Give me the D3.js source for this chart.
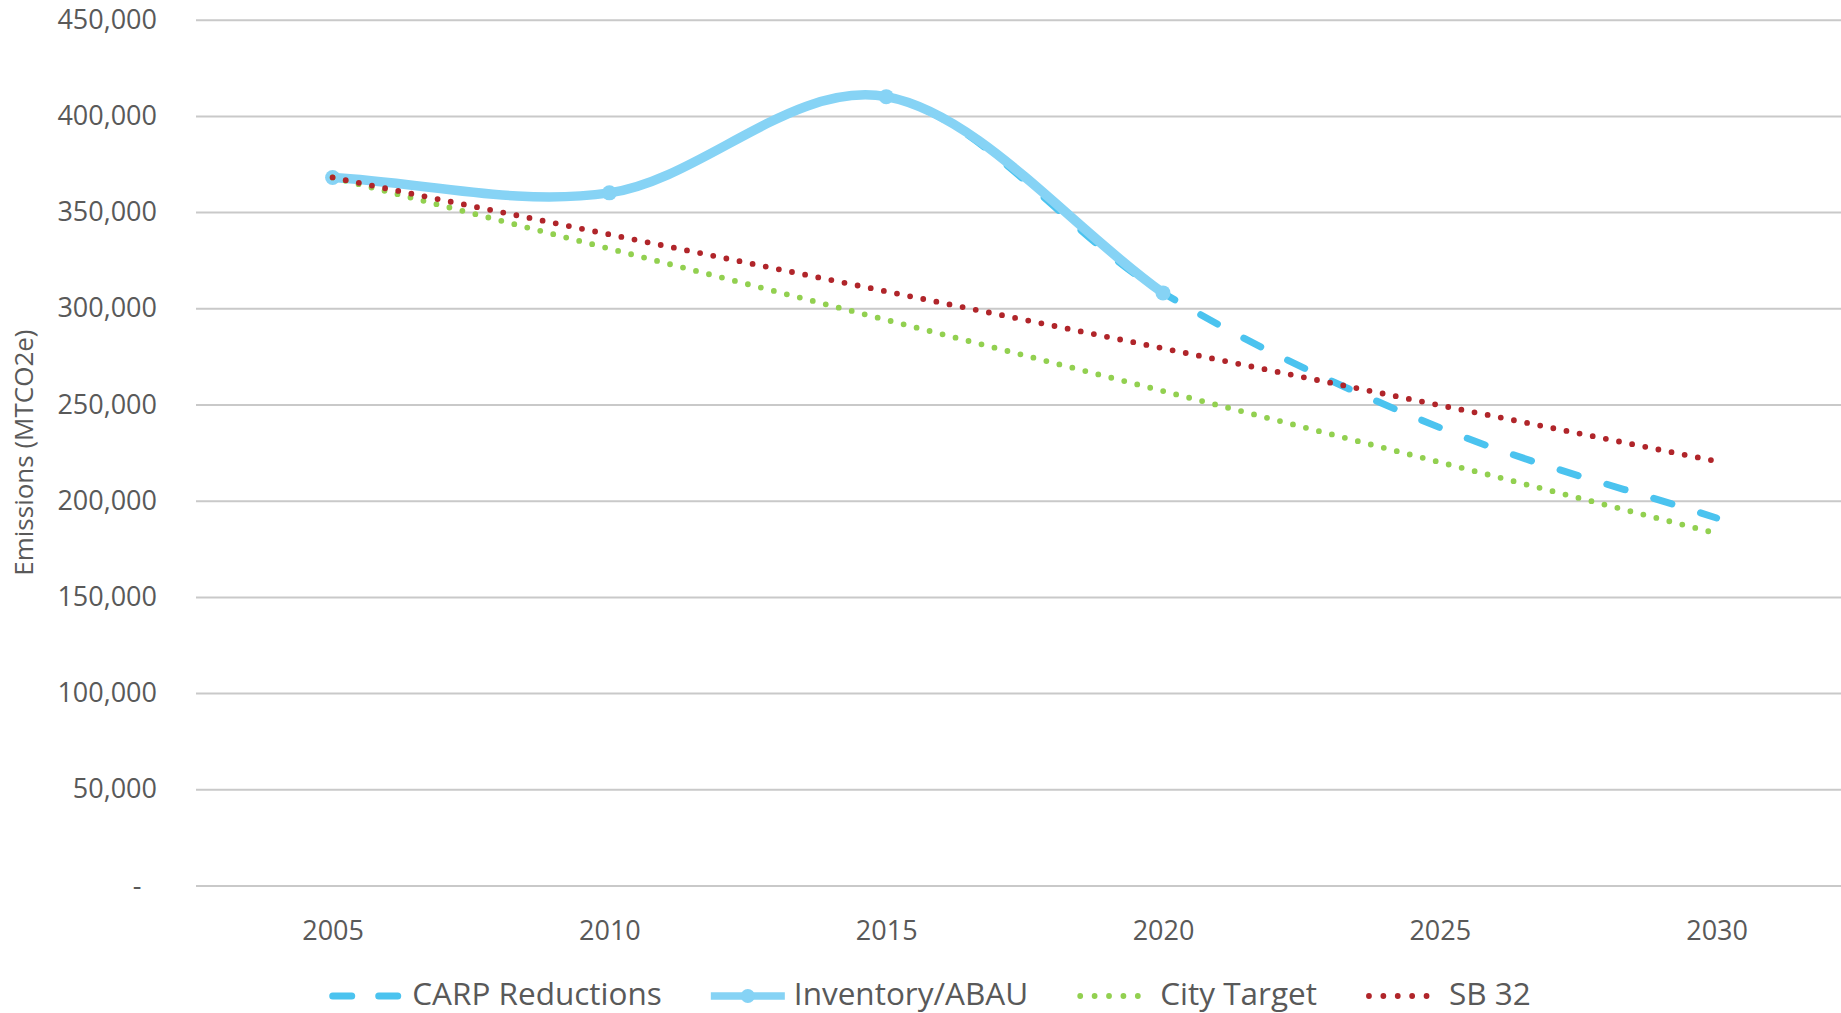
<!DOCTYPE html>
<html>
<head>
<meta charset="utf-8">
<script src="https://cdn.jsdelivr.net/npm/d3@7"></script>
<style>
  html, body { margin: 0; padding: 0; background: #fff; overflow: hidden; }
  svg { display: block; font-family: "Open Sans", "Noto Sans", sans-serif; }
</style>
</head>
<body>
<svg id="chart" width="1841" height="1013"></svg>
<script>
// ---- data ----
const years = [2005, 2010, 2015, 2020, 2025, 2030];
const carpReductions = [368000, 360000, 410000, 308000, 238000, 191000];
const inventoryABAU = [368000, 360000, 410000, 308000, null, null];
const cityTarget = [368000, 331000, 294000, 257000, 220000, 183000];
const sb32 = [368000, 338400, 308800, 279200, 249600, 220500];
const yTickValues = [0, 50000, 100000, 150000, 200000, 250000, 300000, 350000, 400000, 450000];
const seriesNames = ["CARP Reductions", "Inventory/ABAU", "City Target", "SB 32"];
const yTitle = "Emissions (MTCO2e)";

// ---- spreadsheet-style smoothed curve (Bezier through points) ----
function SmoothCurve(context) { this._context = context; }
SmoothCurve.prototype = {
  areaStart() { this._line = 0; },
  areaEnd() { this._line = NaN; },
  lineStart() { this._pts = []; },
  point(px, py) { this._pts.push([+px, +py]); },
  lineEnd() {
    const p = this._pts, n = p.length, c = this._context;
    if (!n) return;
    c.moveTo(p[0][0], p[0][1]);
    if (n === 2) { c.lineTo(p[1][0], p[1][1]); return; }
    for (let i = 0; i < n - 1; i++) {
      const a = p[i], b = p[i + 1];
      let c1, c2;
      if (i === 0) c1 = [a[0] + (b[0] - a[0]) / 3, a[1] + (b[1] - a[1]) / 3];
      else c1 = [a[0] + (b[0] - p[i - 1][0]) / 6, a[1] + (b[1] - p[i - 1][1]) / 6];
      if (i + 1 === n - 1) c2 = [b[0] - (b[0] - a[0]) / 3, b[1] - (b[1] - a[1]) / 3];
      else c2 = [b[0] - (p[i + 2][0] - a[0]) / 6, b[1] - (p[i + 2][1] - a[1]) / 6];
      c.bezierCurveTo(c1[0], c1[1], c2[0], c2[1], b[0], b[1]);
    }
  }
};
const curveSmooth = ctx => new SmoothCurve(ctx);

// ---- layout ----
const svg = d3.select("#chart");
const plotLeft = 196, plotRight = 1857, plotTop = 19.7, plotBottom = 885.5;
const x = d3.scalePoint().domain(years).range([332.6, 1716.6]);
const y = d3.scaleLinear().domain([0, 450000]).range([plotBottom, plotTop]);
const textColor = "#595959";

// gridlines
const grid = svg.append("g")
  .attr("transform", `translate(${plotLeft},0)`)
  .call(d3.axisLeft(y).tickValues(yTickValues).tickSize(-(plotRight - plotLeft)).tickFormat(""));
grid.select(".domain").remove();
grid.selectAll(".tick line").attr("stroke", "#c9c9c9").attr("stroke-width", 2);

// y tick labels
const fmt = d3.format(",");
const yAxis = svg.append("g")
  .attr("transform", `translate(157,0)`)
  .call(d3.axisLeft(y).tickValues(yTickValues).tickSize(0).tickPadding(0)
    .tickFormat(d => d === 0 ? "-\u2007" : fmt(d)));
yAxis.select(".domain").remove();
yAxis.selectAll("text")
  .attr("fill", textColor).style("font-size", "27px").style("font-family", "'Open Sans'");

// x tick labels
const xAxis = svg.append("g")
  .attr("transform", `translate(0,${plotBottom})`)
  .call(d3.axisBottom(x).tickSize(0).tickPadding(0));
xAxis.select(".domain").remove();
xAxis.selectAll("text")
  .attr("fill", textColor).attr("y", 0).attr("dy", "54px")
  .style("font-size", "27px").style("font-family", "'Open Sans'");

// y title
svg.append("text")
  .attr("transform", `translate(33,${(plotTop + plotBottom) / 2}) rotate(-90)`)
  .attr("text-anchor", "middle")
  .attr("fill", textColor)
  .style("font-size", "26px")
  .text(yTitle);

// ---- series ----
const carpColor = "#4bc3ef", invColor = "#86d3f5", greenColor = "#92d050", redColor = "#b0252a";
const lineSmooth = d3.line()
  .x(d => x(d.year)).y(d => y(d.v))
  .curve(curveSmooth);
const lineStraight = d3.line()
  .x(d => x(d.year)).y(d => y(d.v));
const toPts = arr => years.map((yr, i) => ({ year: yr, v: arr[i] })).filter(d => d.v != null);

const carpPath = svg.append("path")
  .attr("d", lineSmooth(toPts(carpReductions)))
  .attr("fill", "none").attr("stroke", carpColor).attr("stroke-width", 7)
  .attr("stroke-dasharray", "19,30").attr("stroke-linecap", "round");
const carpLen = carpPath.node().getTotalLength();
carpPath.attr("stroke-dashoffset", 17 - (carpLen % 49));

const invPts = toPts(inventoryABAU);
svg.append("path")
  .attr("d", lineSmooth(invPts))
  .attr("fill", "none").attr("stroke", invColor).attr("stroke-width", 9.5)
  .attr("stroke-linecap", "round").attr("stroke-linejoin", "round");
svg.append("g").selectAll("circle").data(invPts).join("circle")
  .attr("cx", d => x(d.year)).attr("cy", d => y(d.v)).attr("r", 7.5)
  .attr("fill", invColor);

svg.append("path")
  .attr("d", lineStraight(toPts(cityTarget)))
  .attr("fill", "none").attr("stroke", greenColor).attr("stroke-width", 5.8)
  .attr("stroke-dasharray", "0,13.4").attr("stroke-linecap", "round");

svg.append("path")
  .attr("d", lineStraight(toPts(sb32)))
  .attr("fill", "none").attr("stroke", redColor).attr("stroke-width", 5.8)
  .attr("stroke-dasharray", "0,13.4").attr("stroke-linecap", "round");

// ---- legend ----
const legendY = 996, legendBaseline = 1005;
const symW = 74, symGap = 9, itemGap = 49;
const legend = svg.append("g");
let cx = 0;
seriesNames.forEach((name, i) => {
  const g = legend.append("g").attr("transform", `translate(${cx},0)`);
  if (i === 0) {
    g.append("line").attr("x1", 3.5).attr("x2", symW).attr("y1", legendY).attr("y2", legendY)
      .attr("stroke", carpColor).attr("stroke-width", 7).attr("stroke-linecap", "round")
      .attr("stroke-dasharray", "19,27");
  } else if (i === 1) {
    g.append("line").attr("x1", 0).attr("x2", symW).attr("y1", legendY).attr("y2", legendY)
      .attr("stroke", invColor).attr("stroke-width", 7.5);
    g.append("circle").attr("cx", symW / 2).attr("cy", legendY).attr("r", 7).attr("fill", invColor);
  } else {
    g.append("line").attr("x1", 3).attr("x2", symW).attr("y1", legendY).attr("y2", legendY)
      .attr("stroke", i === 2 ? greenColor : redColor).attr("stroke-width", 5.8)
      .attr("stroke-linecap", "round").attr("stroke-dasharray", "0,14.4");
  }
  const t = g.append("text").attr("x", symW + symGap).attr("y", legendBaseline)
    .attr("fill", textColor).style("font-size", "31.5px").text(name);
  const w = t.node().getComputedTextLength();
  cx += symW + symGap + w + itemGap;
});
const totalW = cx - itemGap;
legend.attr("transform", `translate(${930 - totalW / 2},0)`);
</script>
</body>
</html>
